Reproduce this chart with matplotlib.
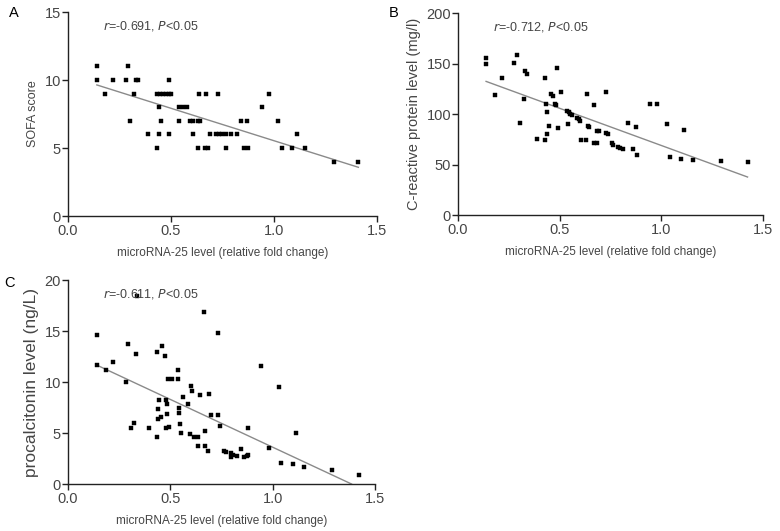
import numpy as np
import matplotlib
matplotlib.use("Agg")
import matplotlib.pyplot as plt

plt.rcParams["font.family"] = ["Liberation Sans", "DejaVu Sans"]

# ── Panel A: SOFA score ──────────────────────────────────────────
sofa_x = [0.14, 0.29,
          0.14, 0.22, 0.28, 0.33, 0.34, 0.49,
          0.18, 0.32, 0.43, 0.445, 0.46, 0.475, 0.49, 0.50, 0.635, 0.67, 0.73, 0.975,
          0.44, 0.54, 0.56, 0.58, 0.94,
          0.30, 0.45, 0.54, 0.59, 0.605, 0.63, 0.64, 0.84, 0.87, 1.02,
          0.39, 0.44, 0.49, 0.605, 0.69, 0.72, 0.735, 0.75, 0.765, 0.79, 0.82, 1.11,
          0.43, 0.63, 0.665, 0.68, 0.765, 0.855, 0.875, 1.04, 1.09, 1.15,
          1.29, 1.41]
sofa_y = [11, 11,
          10, 10, 10, 10, 10, 10,
          9, 9, 9, 9, 9, 9, 9, 9, 9, 9, 9, 9,
          8, 8, 8, 8, 8,
          7, 7, 7, 7, 7, 7, 7, 7, 7, 7,
          6, 6, 6, 6, 6, 6, 6, 6, 6, 6, 6, 6,
          5, 5, 5, 5, 5, 5, 5, 5, 5, 5,
          4, 4]
sofa_fit = (10.31, -4.77)

# ── Panel B: C-reactive protein ──────────────────────────────────
crp_x = [0.138, 0.138, 0.183, 0.216, 0.275, 0.290, 0.305, 0.323, 0.328, 0.339,
         0.388, 0.428, 0.429, 0.434, 0.437, 0.437, 0.449, 0.455, 0.469, 0.477,
         0.481, 0.488, 0.490, 0.505, 0.536, 0.540, 0.545, 0.553, 0.560, 0.586,
         0.593, 0.601, 0.606, 0.630, 0.632, 0.639, 0.645, 0.668, 0.668, 0.683,
         0.686, 0.693, 0.729, 0.729, 0.738, 0.755, 0.763, 0.788, 0.796, 0.812,
         0.837, 0.862, 0.875, 0.878, 0.942, 0.979, 1.027, 1.042, 1.097, 1.112,
         1.155, 1.292, 1.424]
crp_y = [156, 149.5, 118.8, 136, 150.8, 158.7, 91, 114.6, 142.9, 139.6,
         75.2, 74.3, 135.6, 110, 79.9, 102.3, 88.4, 120.1, 118.1, 110,
         109.2, 146.2, 86.1, 121.5, 102.7, 90.1, 102, 100, 99.5, 96,
         94.7, 93, 74.6, 74.3, 120.1, 88.1, 87.5, 71.6, 108.6, 71.6,
         83.5, 83.5, 121.5, 81.5, 80.2, 71, 69, 67.6, 66.6, 65.3,
         91.4, 65, 87.5, 59.1, 110, 110, 90.1, 57.4, 55.7, 84.2,
         55, 53.8, 52.8]
crp_fit = (142.6, -73.7)

# ── Panel C: procalcitonin ───────────────────────────────────────
pct_x = [0.143, 0.143, 0.184, 0.221, 0.283, 0.294, 0.307, 0.324, 0.333, 0.338,
         0.393, 0.433, 0.433, 0.437, 0.439, 0.444, 0.455, 0.460, 0.475, 0.480,
         0.481, 0.483, 0.489, 0.480, 0.491, 0.507, 0.538, 0.538, 0.541, 0.541,
         0.548, 0.553, 0.562, 0.585, 0.597, 0.600, 0.605, 0.615, 0.633, 0.634,
         0.644, 0.665, 0.667, 0.667, 0.683, 0.689, 0.698, 0.732, 0.730, 0.743,
         0.759, 0.769, 0.794, 0.794, 0.803, 0.823, 0.844, 0.860, 0.872, 0.880,
         0.880, 0.941, 0.980, 1.029, 1.039, 1.099, 1.114, 1.154, 1.289, 1.420]
pct_y = [14.6, 11.7, 11.2, 12.0, 10.0, 13.7, 5.5, 6.0, 12.8, 18.4,
         5.5, 12.9, 4.6, 7.35, 6.4, 8.2, 6.6, 13.5, 12.6, 8.2,
         6.9, 7.8, 10.3, 5.5, 5.6, 10.3, 11.2, 10.3, 7.5, 7.0,
         5.85, 5.05, 8.55, 7.8, 4.9, 9.6, 9.1, 4.6, 3.75, 4.6,
         8.7, 16.9, 5.2, 3.75, 3.25, 8.85, 6.8, 14.8, 6.8, 5.7,
         3.2, 3.1, 3.0, 2.6, 2.85, 2.7, 3.4, 2.65, 2.75, 5.5,
         2.8, 11.6, 3.5, 9.5, 2.1, 2.0, 5.0, 1.65, 1.4, 0.9]
pct_fit = (12.98, -9.38)

INK = "#222222"
TXT = "#454545"
LINE = "#8a8a8a"
W, H = 780, 531


def draw_panel(ax, xs, ys, fit, ymax, ystep, ylabel, ylabel_size, stat,
               letter, letter_xy):
    ax.plot(xs, ys, "s", color="black", ms=2.4, mec="black", mew=0.3,
            clip_on=False, zorder=3)
    x0, x1 = min(xs), max(xs)
    fx = np.array([x0, x1])
    fy = fit[0] + fit[1] * fx
    if fy[1] < 0:
        fx[1] = -fit[0] / fit[1]
        fy[1] = 0
    ax.plot(fx, fy, color=LINE, lw=1.0, zorder=2)

    ax.set_xlim(0, 1.5)
    ax.set_ylim(0, ymax)
    ax.set_xticks([0, 0.5, 1.0, 1.5])
    ax.set_xticklabels(["0.0", "0.5", "1.0", "1.5"])
    ax.set_yticks(np.arange(0, ymax + 1, ystep))
    for side in ("top", "right"):
        ax.spines[side].set_visible(False)
    for side in ("left", "bottom"):
        ax.spines[side].set_color(INK)
        ax.spines[side].set_linewidth(1.0)
    ax.tick_params(direction="out", length=4.5, width=1.0, color=INK,
                   labelsize=10.5, labelcolor=TXT)
    ax.tick_params(axis="y", pad=0.5)
    ax.tick_params(axis="x", pad=1.5)
    ax.set_xlabel("microRNA-25 level (relative fold change)", fontsize=8.5,
                  color=TXT, labelpad=6)
    ax.set_ylabel(ylabel, fontsize=ylabel_size, color=TXT, labelpad=4)

    ax.text(0.17, ymax * 0.93, r"$r$=" + stat + r", $P$<0.05",
            fontsize=9, color=TXT, va="center", ha="left")
    fig.text(letter_xy[0] / W, 1 - letter_xy[1] / H, letter, fontsize=10.5,
             color="black", va="center", ha="left")


fig = plt.figure(figsize=(7.8, 5.31), dpi=100)
ax_a = fig.add_axes([0.0872, 0.5932, 0.396, 0.384])
ax_b = fig.add_axes([0.5872, 0.5951, 0.391, 0.380])
ax_c = fig.add_axes([0.0872, 0.0885, 0.394, 0.384])

draw_panel(ax_a, sofa_x, sofa_y, sofa_fit, 15, 5, "SOFA score", 9,
           "-0.691", "A", (9, 13))
draw_panel(ax_b, crp_x, crp_y, crp_fit, 200, 50,
           "C-reactive protein level (mg/l)", 10.5, "-0.712", "B", (389, 13))
draw_panel(ax_c, pct_x, pct_y, pct_fit, 20, 5, "procalcitonin level (ng/L)",
           12.5, "-0.611", "C", (4, 283))

fig.savefig("out.png", dpi=100)
